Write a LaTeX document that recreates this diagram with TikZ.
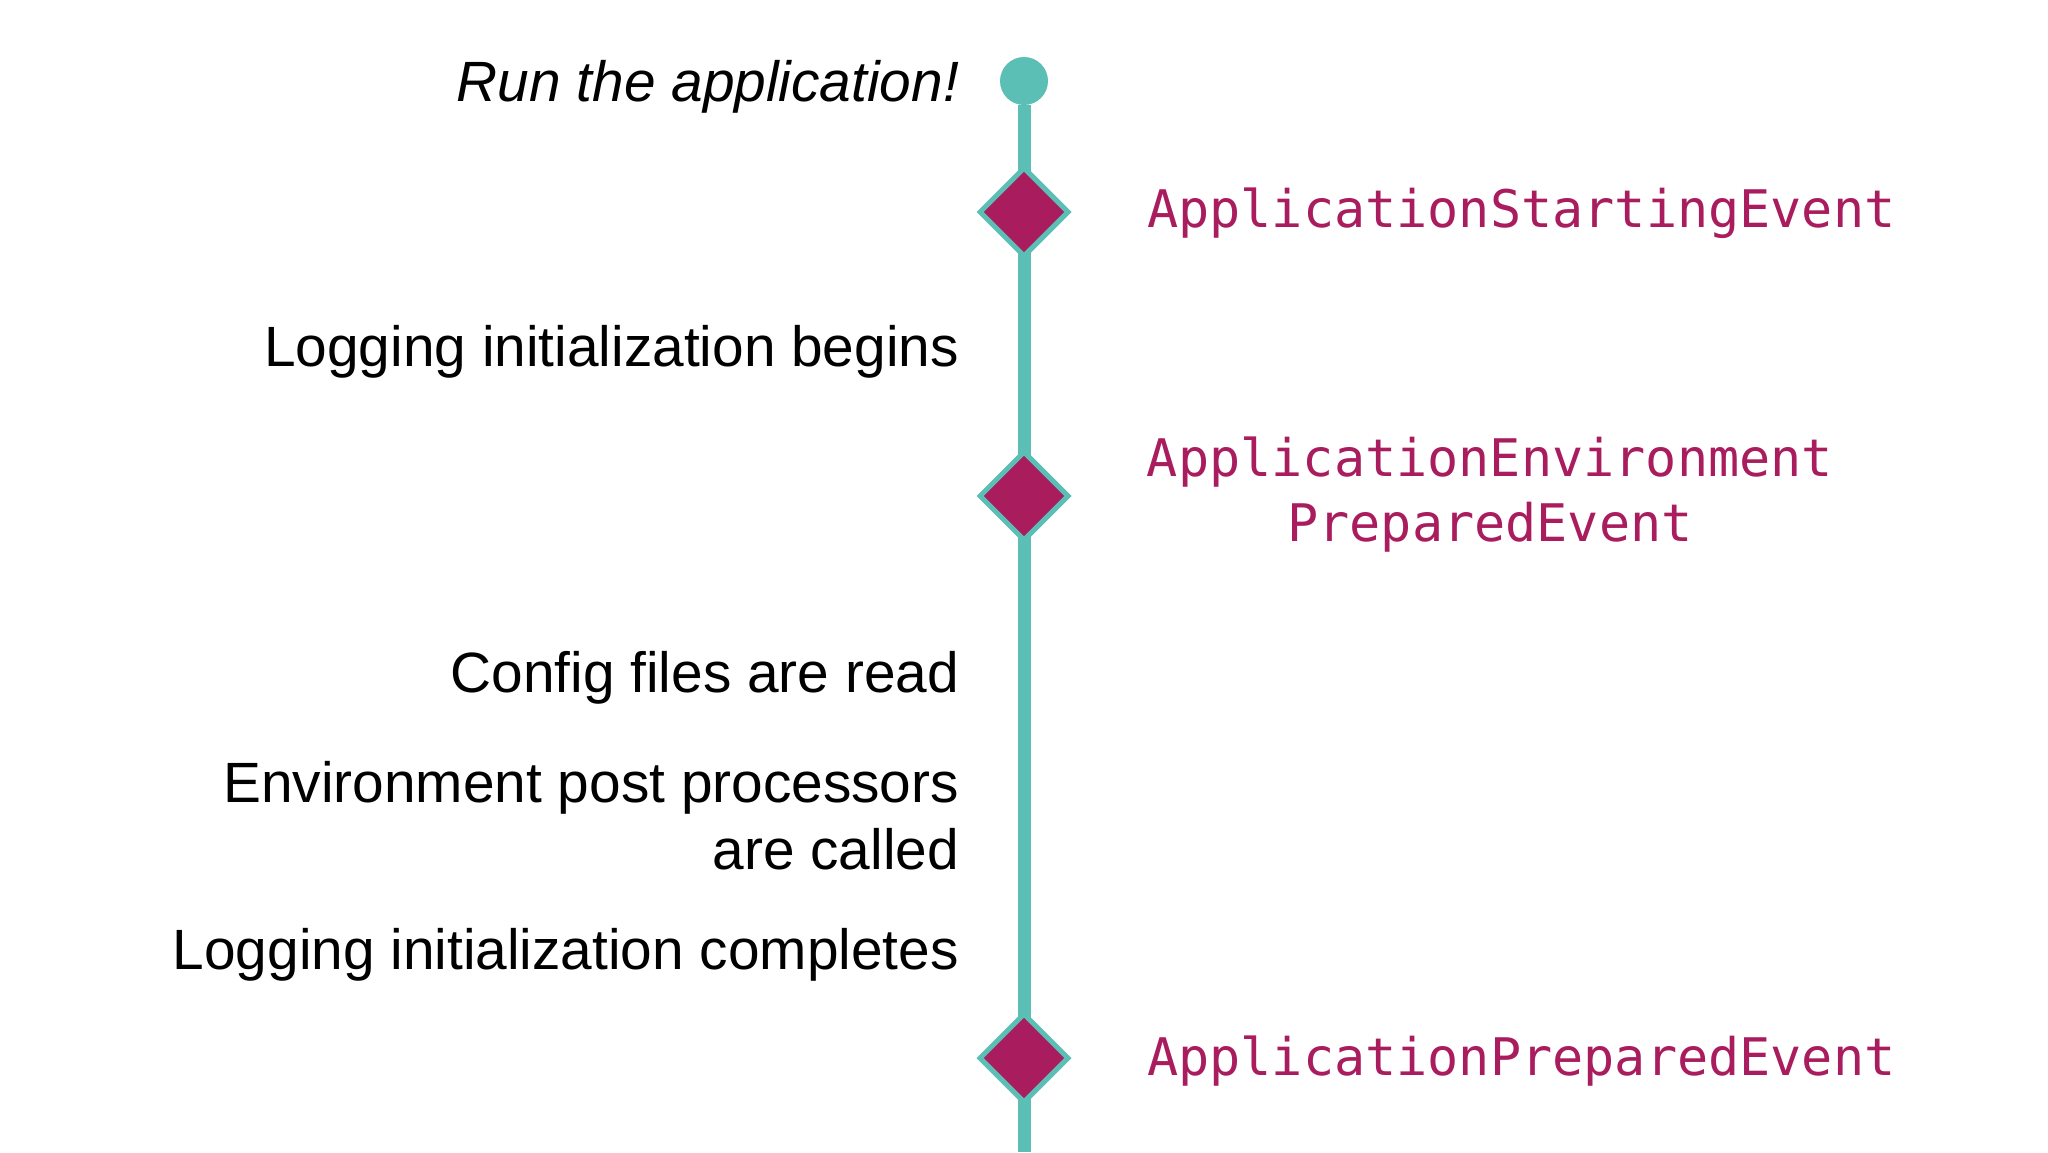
\documentclass[tikz,border=0pt]{standalone}
\usepackage{fontspec}
\setmainfont{Liberation Sans}
\newfontfamily\codefont{DejaVu Sans Mono}
\begin{document}
\begin{tikzpicture}[x=0.5pt,y=-0.5pt,
  teal/.style={draw=tl, line width=6.5pt},
  ev/.style={diamond, fill=mg, draw=tl, line width=2.5pt, minimum size=45pt, inner sep=0pt},
  lt/.style={anchor=base east, font=\fontsize{28.4}{33.5}\selectfont, align=right},
  rt/.style={anchor=base west, text=mg, font=\codefont\fontsize{25.9}{32.5}\selectfont}]
\definecolor{tl}{HTML}{5BBFB5}
\definecolor{mg}{HTML}{A91D5E}
\usetikzlibrary{shapes.geometric}
\useasboundingbox (0,0) rectangle (2048,1152);
\fill[white] (0,0) rectangle (2048,1152);
\node[circle, fill=tl, minimum size=24pt, inner sep=0pt] (start) at (1024,81) {};
\coordinate (end) at (1024,1152);
\draw[teal] (start) -- (end);
\node[ev] (e1) at (1024,212) {};
\node[ev] (e2) at (1024,496) {};
\node[ev] (e3) at (1024,1058) {};
\node[lt, font=\itshape\fontsize{28.4}{33.5}\selectfont] (t0) at (966,101) {Run the application!};
\node[lt] (t1) at (966,366) {Logging initialization begins};
\node[lt] (t2) at (966,692) {Config files are read};
\node[lt, anchor=north east] (t3) at (966,754) {Environment post processors\\are called};
\node[lt] (t4) at (966,969) {Logging initialization completes};
\node[rt] (r1) at (1140,227) {ApplicationStartingEvent};
\node[rt, anchor=north, align=center] (r2) at (1490,430) {ApplicationEnvironment\\PreparedEvent};
\node[rt] (r3) at (1140,1075) {ApplicationPreparedEvent};
\end{tikzpicture}
\end{document}
